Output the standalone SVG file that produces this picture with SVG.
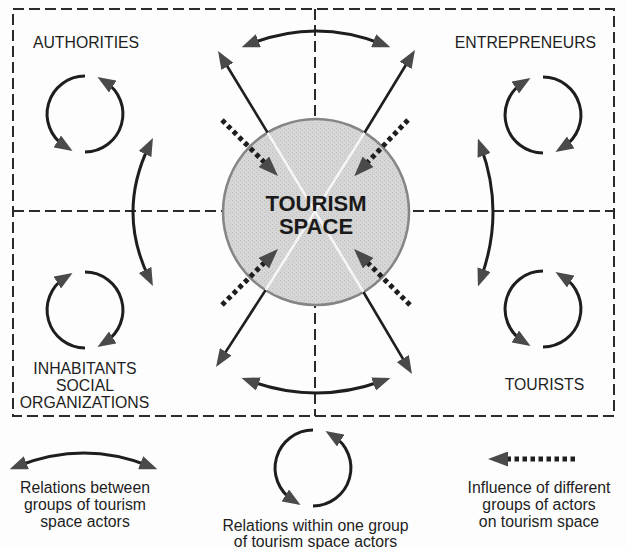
<svg xmlns="http://www.w3.org/2000/svg" width="626" height="549" viewBox="0 0 626 549">
<style>
.frame{fill:none;stroke:#2a2a2a;stroke-width:2;stroke-dasharray:11 5}
.lbl{font-family:"Liberation Sans",Arial,sans-serif;font-size:15.8px;fill:#1e1e1e;text-anchor:middle}
.leg{font-family:"Liberation Sans",Arial,sans-serif;font-size:15.8px;fill:#1e1e1e;text-anchor:middle}
.title{font-family:"Liberation Sans",Arial,sans-serif;font-size:22px;font-weight:bold;fill:#1a1a1a;text-anchor:middle}
.arc{fill:none;stroke:#1e1e1e;stroke-width:3;marker-end:url(#ah)}
.rel{fill:none;stroke:#1e1e1e;stroke-width:3;marker-start:url(#ah);marker-end:url(#ah)}
.out{fill:none;stroke:#1e1e1e;stroke-width:2.6;marker-end:url(#ah)}
.inf{fill:none;stroke:#1e1e1e;stroke-width:5;stroke-dasharray:4.5 3.5;marker-end:url(#ahd)}
</style>
<defs>
<marker id="ah" viewBox="0 0 18 14" markerWidth="18" markerHeight="14" refX="9" refY="7" orient="auto-start-reverse" markerUnits="userSpaceOnUse">
<path d="M0,0 L18,7 L0,14 z" fill="#4a4a4a"/>
</marker>
<marker id="ahd" viewBox="0 0 20 15" markerWidth="20" markerHeight="15" refX="6" refY="7.5" orient="auto" markerUnits="userSpaceOnUse">
<path d="M0,0 L20,7.5 L0,15 z" fill="#4a4a4a"/>
</marker>
<pattern id="stip" width="4" height="4" patternUnits="userSpaceOnUse">
<rect width="4" height="4" fill="#d6d6d6"/>
<rect x="0" y="0" width="1" height="1" fill="#bdbdbd"/>
<rect x="2" y="2" width="1" height="1" fill="#c4c4c4"/>
</pattern>
</defs>
<rect width="626" height="549" fill="#fdfdfd"/>
<g id="frames">
<path class="frame" d="M13,9 H614 V416 H13 Z"/>
<path class="frame" d="M315,9 V416"/>
<path class="frame" d="M13,211 H614"/>
</g>
<g id="tourism-space">
<circle cx="316" cy="212" r="93" fill="url(#stip)" stroke="#858585" stroke-width="2.5"/>
<path d="M267.6,132.6 L363.4,292 M364.5,132.7 L265.6,290.1" stroke="#f6f6f6" stroke-width="2.5" fill="none"/>
<text class="title" x="316" y="211">TOURISM</text>
<text class="title" x="316" y="234">SPACE</text>
</g>
<g id="authorities">
<text class="lbl" x="86" y="48">AUTHORITIES</text>
<path class="arc" d="M85,76 A38,38 0 0 0 64.9,146.2"/>
<path class="arc" d="M85,152 A38,38 0 0 0 105.1,81.8"/>
</g>
<g id="entrepreneurs">
<text class="lbl" x="525.5" y="48">ENTREPRENEURS</text>
<path class="arc" d="M543,77 A38,38 0 0 1 563.1,147.2"/>
<path class="arc" d="M543,153 A38,38 0 0 1 522.9,82.8"/>
</g>
<g id="inhabitants">
<path class="arc" d="M85,272 A38,38 0 0 1 105.1,342.2"/>
<path class="arc" d="M85,348 A38,38 0 0 1 64.9,277.8"/>
<text class="lbl" x="85" y="374">INHABITANTS</text>
<text class="lbl" x="85" y="391">SOCIAL</text>
<text class="lbl" x="84.5" y="408">ORGANIZATIONS</text>
</g>
<g id="tourists">
<path class="arc" d="M543,271 A38,38 0 0 0 522.9,341.2"/>
<path class="arc" d="M543,347 A38,38 0 0 0 563.1,276.8"/>
<text class="lbl" x="544.5" y="390">TOURISTS</text>
</g>
<g id="connectors">
<path class="rel" d="M250,44 Q316,18 382,44"/>
<path class="rel" d="M250,381 Q316,405 382,381"/>
<path class="rel" d="M149,146 Q117,212 149,278"/>
<path class="rel" d="M481,147 Q505,212 481,278"/>
<path class="out" d="M267.6,132.6 L222.7,58.7"/>
<path class="out" d="M364.5,132.7 L410.3,57.7"/>
<path class="out" d="M265.6,290.1 L220.9,359.4"/>
<path class="out" d="M363.4,292 L407.4,366.3"/>
<path class="inf" d="M222,120 L268.1,166.1"/>
<path class="inf" d="M408,120 L363.9,166.1"/>
<path class="inf" d="M222,305 L268.1,258.9"/>
<path class="inf" d="M410,305 L363.9,258.9"/>
</g>
<g id="legend-between">
<path class="rel" d="M18,466 Q84,440 149,466"/>
<text class="leg" x="85" y="493">Relations between</text>
<text class="leg" x="85" y="510">groups of tourism</text>
<text class="leg" x="85" y="527">space actors</text>
</g>
<g id="legend-within">
<path class="arc" d="M313,430 A38,38 0 0 0 292.9,500.2"/>
<path class="arc" d="M313,506 A38,38 0 0 0 333.1,435.8"/>
<text class="leg" x="315.5" y="531">Relations within one group</text>
<text class="leg" x="315.5" y="547">of tourism space actors</text>
</g>
<g id="legend-influence">
<path class="inf" d="M575,459 L502,459"/>
<text class="leg" x="539" y="493">Influence of different</text>
<text class="leg" x="539" y="510">groups of actors</text>
<text class="leg" x="539" y="527">on tourism space</text>
</g>
</svg>
